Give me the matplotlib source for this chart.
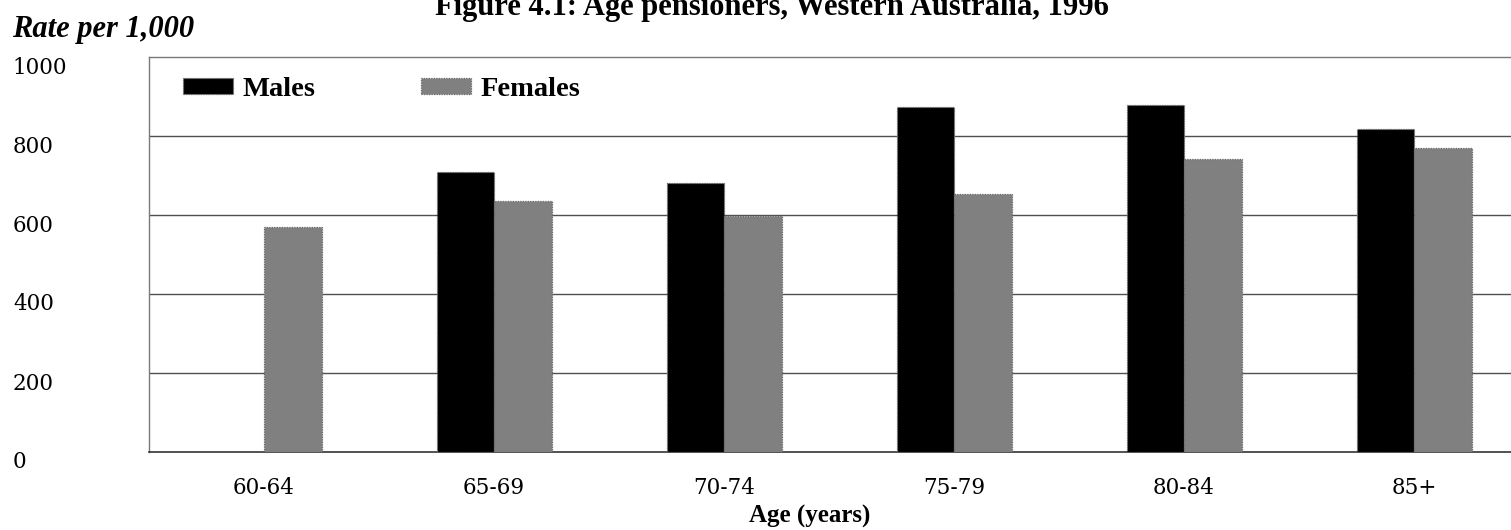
import numpy as np
import matplotlib
matplotlib.use("Agg")
import matplotlib.pyplot as plt
from matplotlib import transforms

plt.rcParams['font.family'] = ['Liberation Serif', 'DejaVu Serif']

ages = ['60-64', '65-69', '70-74', '75-79', '80-84', '85+']
males = [0, 709, 681, 873, 878, 818]
females = [570, 635, 597, 653, 742, 770]
yticks = [0, 200, 400, 600, 800, 1000]

W, H = 1511, 530
fig = plt.figure(figsize=(W / 100, H / 100), dpi=100)
# axes runs off the right edge, like the original export
ax = fig.add_axes([149 / W, 78 / H, 1380 / W, 395 / H])

x = np.arange(len(ages))
bw = 0.25
edge = dict(edgecolor='#6a6a6a', linewidth=0.9, linestyle=(0, (1, 1)))
ax.bar(x - bw / 2, males, bw, color='black', label='Males', zorder=3, **edge)
ax.bar(x + bw / 2, females, bw, color='#808080', label='Females', zorder=3, **edge)

ax.set_xlim(-0.5, 5.5)
ax.set_ylim(0, 1000)
for v in yticks[1:-1]:
    ax.axhline(v, color='#505050', linewidth=1.0, zorder=1)

for side in ['left', 'top']:
    ax.spines[side].set_color('#7a7a7a')
    ax.spines[side].set_linestyle((0, (1, 1)))
    ax.spines[side].set_linewidth(1.0)
ax.spines['bottom'].set_color('#333333')
ax.spines['bottom'].set_linestyle((0, (1, 1)))
ax.spines['bottom'].set_linewidth(1.2)
ax.spines['right'].set_visible(False)

tickfont = {'family': 'DejaVu Serif', 'size': 15.5}
ax.set_xticks(x)
ax.set_xticklabels(ages, fontdict=tickfont)
ax.tick_params(axis='x', length=0, pad=18)

ax.set_yticks(yticks)
ax.set_yticklabels([str(v) for v in yticks], fontdict=tickfont, ha='left')
ax.tick_params(axis='y', length=0, pad=98)
shift = transforms.ScaledTranslation(0, -8 / 100, fig.dpi_scale_trans)
for lab in ax.get_yticklabels():
    lab.set_transform(lab.get_transform() + shift)

fig.text(810 / W, 1 - 516 / H, 'Age (years)', ha='center', va='center',
         fontsize=18, fontweight='bold')
fig.text(12 / W, 1 - 29 / H, 'Rate per 1,000', ha='left', va='center',
         fontsize=22, fontweight='bold', style='italic')
fig.text(772 / W, 1 - 15 / H, 'Figure 4.1: Age pensioners, Western Australia, 1996',
         ha='center', va='baseline', fontsize=22, fontweight='bold')

ax.legend(loc='upper left', bbox_to_anchor=(183 / W, 1 - 77 / H),
          bbox_transform=fig.transFigure, ncol=2, frameon=False,
          prop={'size': 20.5, 'weight': 'bold'}, handlelength=1.75,
          handleheight=0.5, handletextpad=0.35, columnspacing=3.7,
          borderaxespad=0, borderpad=0)

plt.savefig('out.png', dpi=100)
